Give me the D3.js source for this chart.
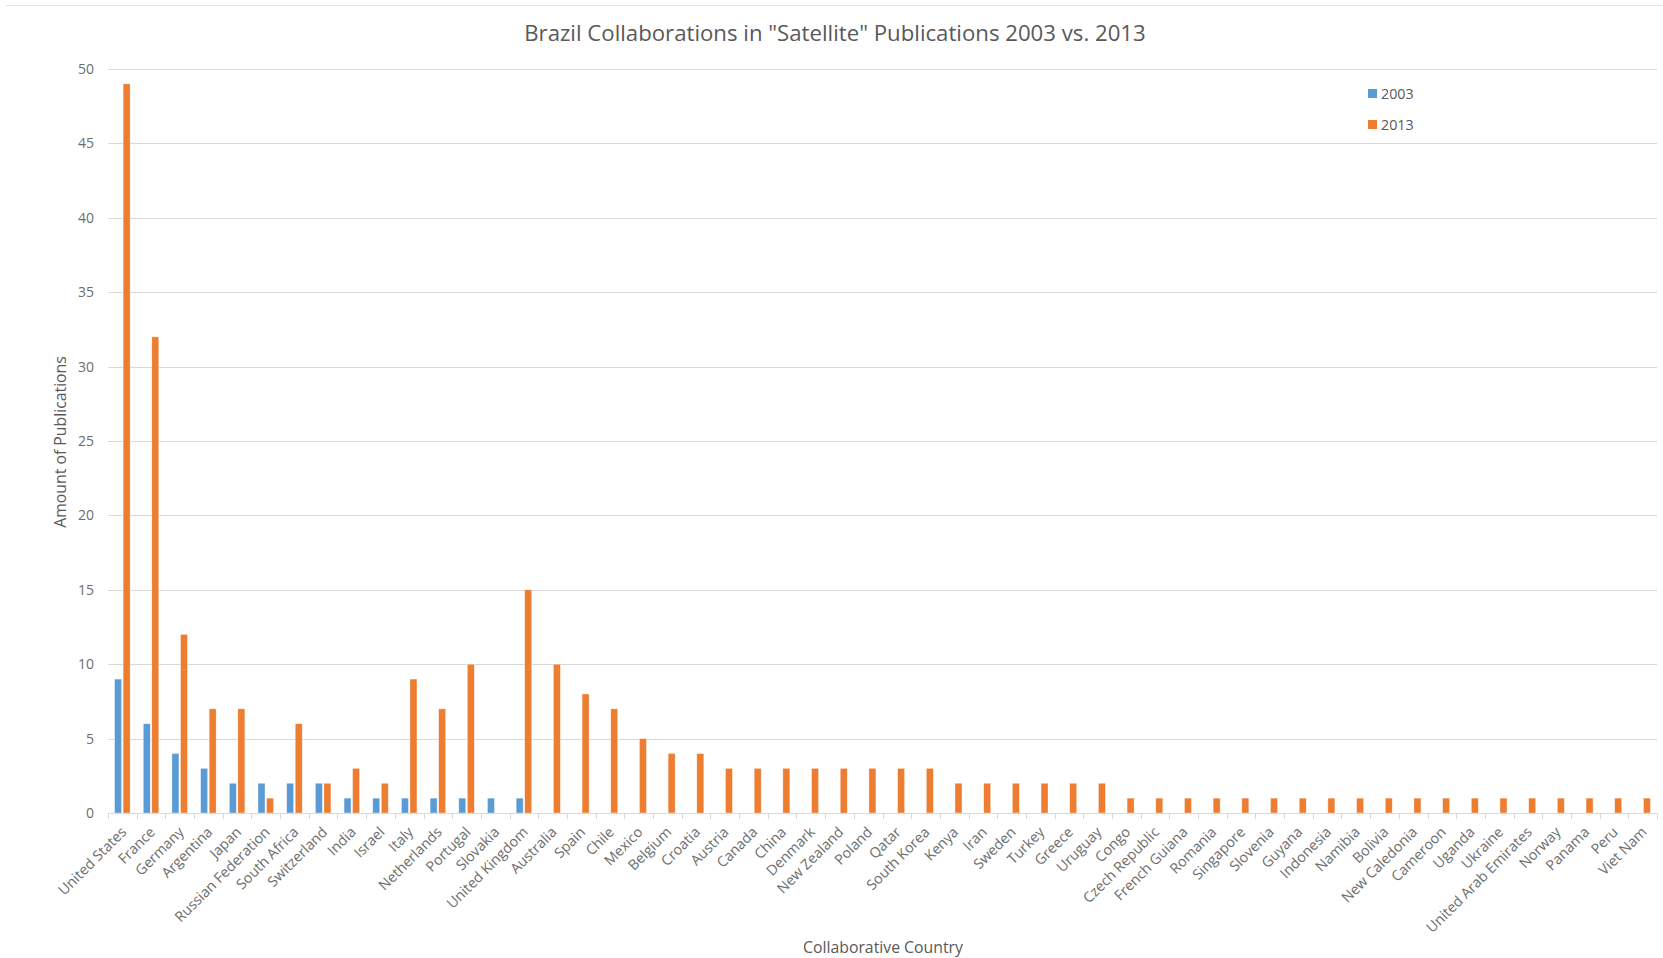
<!DOCTYPE html>
<html>
<head>
<meta charset="utf-8">
<script src="https://cdn.jsdelivr.net/npm/d3@7"></script>
<style>
  html, body { margin: 0; padding: 0; background: #fff; }
  svg { display: block; font-family: "Open Sans", "Noto Sans", sans-serif; }
</style>
</head>
<body>
<svg id="chart" width="1663" height="958"></svg>
<script>
// Countries collaborating with Brazil, in chart order
const countries = [
  "United States", "France", "Germany", "Argentina", "Japan", "Russian Federation",
  "South Africa", "Switzerland", "India", "Israel", "Italy", "Netherlands", "Portugal",
  "Slovakia", "United Kingdom", "Australia", "Spain", "Chile", "Mexico", "Belgium",
  "Croatia", "Austria", "Canada", "China", "Denmark", "New Zealand", "Poland", "Qatar",
  "South Korea", "Kenya", "Iran", "Sweden", "Turkey", "Greece", "Uruguay", "Congo",
  "Czech Republic", "French Guiana", "Romania", "Singapore", "Slovenia", "Guyana",
  "Indonesia", "Namibia", "Bolivia", "New Caledonia", "Cameroon", "Uganda", "Ukraine",
  "United Arab Emirates", "Norway", "Panama", "Peru", "Viet Nam"
];

// Publications per country, 2003
const pubs2003 = [
  9, 6, 4, 3, 2, 2, 2, 2, 1, 1, 1, 1, 1, 1, 1, 0, 0, 0, 0, 0,
  0, 0, 0, 0, 0, 0, 0, 0, 0, 0, 0, 0, 0, 0, 0, 0, 0, 0, 0, 0,
  0, 0, 0, 0, 0, 0, 0, 0, 0, 0, 0, 0, 0, 0
];

// Publications per country, 2013
const pubs2013 = [
  49, 32, 12, 7, 7, 1, 6, 2, 3, 2, 9, 7, 10, 0, 15, 10, 8, 7, 5, 4,
  4, 3, 3, 3, 3, 3, 3, 3, 3, 2, 2, 2, 2, 2, 2, 1, 1, 1, 1, 1,
  1, 1, 1, 1, 1, 1, 1, 1, 1, 1, 1, 1, 1, 1
];

const seriesNames = ["2003", "2013"];
const seriesColors = ["#5b9bd5", "#ed7d31"];
const yTicks = [0, 5, 10, 15, 20, 25, 30, 35, 40, 45, 50];

const titleText = "Brazil Collaborations in \"Satellite\" Publications 2003 vs. 2013";
const yTitle = "Amount of Publications";
const xTitle = "Collaborative Country";

const svg = d3.select("#chart");
const plot = { left: 108, right: 1657, top: 69, bottom: 813 };

const x = d3.scaleBand()
  .domain(countries)
  .range([plot.left, plot.right])
  .paddingInner(0)
  .paddingOuter(0);

const inner = d3.scaleBand()
  .domain(seriesNames)
  .range([0, x.bandwidth()])
  .paddingInner(0.18)
  .paddingOuter(0.77);

const y = d3.scaleLinear().domain([0, 50]).range([plot.bottom, plot.top]);

// Chart area border line along the top
svg.append("line")
  .attr("x1", 6).attr("x2", 1663).attr("y1", 5.5).attr("y2", 5.5)
  .attr("stroke", "#e3e3e3").attr("stroke-width", 1);

// Title
svg.append("text")
  .attr("x", 835).attr("y", 41)
  .attr("text-anchor", "middle")
  .attr("font-size", 22.2)
  .attr("fill", "#595959")
  .text(titleText);

// Horizontal gridlines
svg.append("g")
  .selectAll("line")
  .data(yTicks.filter(d => d > 0))
  .join("line")
  .attr("x1", plot.left).attr("x2", plot.right)
  .attr("y1", d => Math.round(y(d)) + 0.5)
  .attr("y2", d => Math.round(y(d)) + 0.5)
  .attr("stroke", "#d9d9d9").attr("stroke-width", 1);

// Y axis labels
const yAxis = d3.axisLeft(y).tickValues(yTicks).tickSize(0).tickPadding(14);
const yg = svg.append("g").attr("transform", `translate(${plot.left},0)`).call(yAxis);
yg.select(".domain").remove();
yg.selectAll("text")
  .attr("font-size", 14)
  .attr("font-family", "\"Open Sans\", sans-serif")
  .attr("fill", "#6d6d6d");

// Bars
const groups = svg.append("g")
  .selectAll("g")
  .data(countries.map((c, i) => ({ country: c, values: [pubs2003[i], pubs2013[i]] })))
  .join("g")
  .attr("transform", d => `translate(${x(d.country)},0)`);

groups.selectAll("rect")
  .data(d => d.values.map((v, k) => ({ key: seriesNames[k], value: v, color: seriesColors[k] })))
  .join("rect")
  .filter(d => d.value > 0)
  .attr("x", d => inner(d.key))
  .attr("width", inner.bandwidth())
  .attr("y", d => y(d.value))
  .attr("height", d => y(0) - y(d.value))
  .attr("fill", d => d.color)
  .attr("stroke", "#ffffff")
  .attr("stroke-opacity", 0.6)
  .attr("stroke-width", 0.6);

// X axis with tick marks at category boundaries
const xg = svg.append("g").attr("transform", `translate(0,${plot.bottom})`);
xg.append("line")
  .attr("x1", plot.left).attr("x2", plot.right)
  .attr("y1", 0.5).attr("y2", 0.5)
  .attr("stroke", "#d9d9d9").attr("stroke-width", 1);
xg.selectAll("line.tick")
  .data(countries.map(c => x(c)).concat([plot.right]))
  .join("line")
  .attr("class", "tick")
  .attr("x1", d => Math.round(d) + 0.5).attr("x2", d => Math.round(d) + 0.5)
  .attr("y1", 0.5).attr("y2", 6)
  .attr("stroke", "#d9d9d9");

xg.selectAll("text.cat")
  .data(countries)
  .join("text")
  .attr("class", "cat")
  .attr("text-anchor", "end")
  .attr("font-size", 14.3)
  .attr("fill", "#6d6d6d")
  .attr("transform", d => `translate(${x(d) + x.bandwidth() / 2 + 5},${20}) rotate(-45)`)
  .text(d => d);

// Axis titles
svg.append("text")
  .attr("transform", `translate(${66},${442}) rotate(-90)`)
  .attr("text-anchor", "middle")
  .attr("font-size", 15.8)
  .attr("fill", "#595959")
  .text(yTitle);

svg.append("text")
  .attr("x", 883).attr("y", 953)
  .attr("text-anchor", "middle")
  .attr("font-size", 15.8)
  .attr("fill", "#595959")
  .text(xTitle);

// Legend
const legend = svg.append("g").attr("transform", "translate(1368,89)");
const items = legend.selectAll("g")
  .data(seriesNames)
  .join("g")
  .attr("transform", (d, i) => `translate(0,${i * 31})`);
items.append("rect")
  .attr("width", 9).attr("height", 9)
  .attr("fill", (d, i) => seriesColors[i]);
items.append("text")
  .attr("x", 13).attr("y", 10)
  .attr("font-size", 14.3)
  .attr("fill", "#595959")
  .text(d => d);
</script>
</body>
</html>
